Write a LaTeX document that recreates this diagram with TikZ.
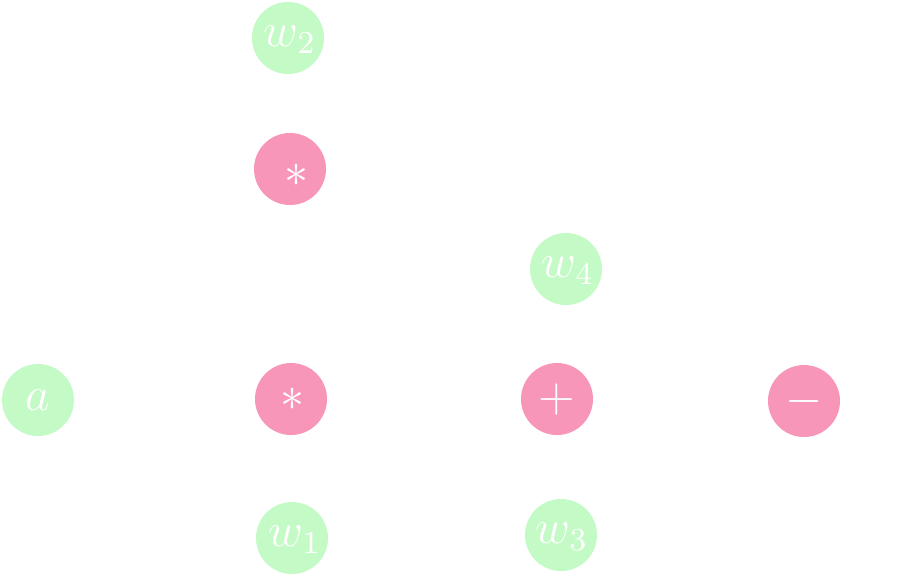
\documentclass[tikz,border=0pt]{standalone}
\usepackage{graphicx}
\definecolor{vargreen}{RGB}{196,250,198}
\definecolor{oppink}{RGB}{247,150,185}
\newcommand{\bigsym}[1]{\scalebox{4.0}{\fontsize{12}{14}\selectfont$#1$}}
\tikzset{
  varnode/.style={circle,fill=vargreen,minimum size=72pt,inner sep=0pt,text=white},
  opnode/.style={circle,fill=oppink,minimum size=72pt,inner sep=0pt,text=white},
  optext/.style={text=white,inner sep=0pt}
}
\begin{document}
\begin{tikzpicture}[x=1pt,y=-1pt]
\useasboundingbox (0,0) rectangle (897,576);
\node[varnode] (w2) at (288,38) {};
\node[optext] (w2t) at (290,40) {\bigsym{w_2}};
\node[opnode] (m2) at (290,169) {};
\node[optext] (m2t) at (296,175) {\bigsym{*}};
\node[varnode] (w4) at (566,269) {};
\node[optext] (w4t) at (568,271) {\bigsym{w_4}};
\node[varnode] (a) at (38,400) {\bigsym{a}};
\node[opnode] (m1) at (291,399) {};
\node[optext] (m1t) at (292,399) {\bigsym{*}};
\node[opnode] (plus) at (557,399) {\bigsym{+}};
\node[opnode] (minus) at (804,401) {\bigsym{-}};
\node[varnode] (w1) at (292,538) {};
\node[optext] (w1t) at (295,540) {\bigsym{w_1}};
\node[varnode] (w3) at (561,535) {};
\node[optext] (w3t) at (562,537) {\bigsym{w_3}};
\end{tikzpicture}
\end{document}
